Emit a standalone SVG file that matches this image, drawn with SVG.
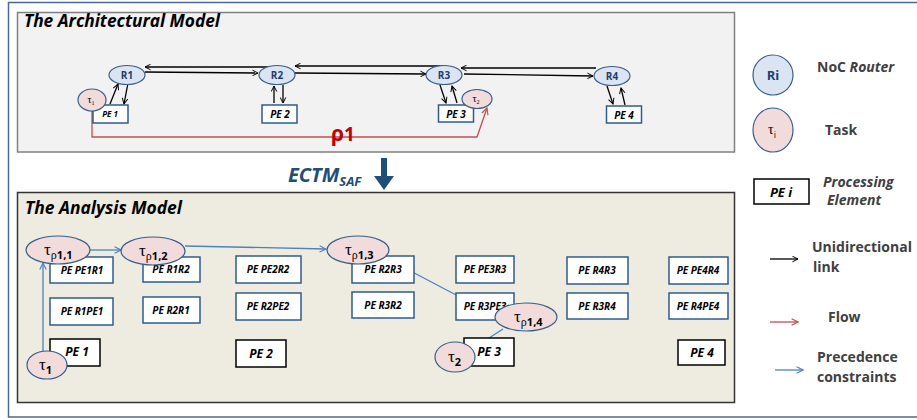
<svg xmlns="http://www.w3.org/2000/svg" width="917" height="420" viewBox="0 0 917 420">
<defs>
<marker id="ab" viewBox="0 0 10 10" refX="9" refY="5" markerWidth="7" markerHeight="7" markerUnits="userSpaceOnUse" orient="auto"><path d="M1,1 L9,5 L1,9" fill="none" stroke="#000" stroke-width="1.4"/></marker>
<marker id="ar" viewBox="0 0 10 10" refX="9" refY="5" markerWidth="8" markerHeight="8" markerUnits="userSpaceOnUse" orient="auto"><path d="M1,1 L9,5 L1,9" fill="none" stroke="#c0504d" stroke-width="1.4"/></marker>
<marker id="au" viewBox="0 0 10 10" refX="9" refY="5" markerWidth="8" markerHeight="8" markerUnits="userSpaceOnUse" orient="auto"><path d="M1,1 L9,5 L1,9" fill="none" stroke="#4f81bd" stroke-width="1.4"/></marker>
</defs>
<style>
text{font-family:"Open Sans","Liberation Sans",sans-serif}
.ttl{font-size:17px;font-weight:bold;font-style:italic;fill:#000}
.rt{fill:#dbe5f1;stroke:#385d8a;stroke-width:1.2}
.tk{fill:#f2dcdb;stroke:#385d8a;stroke-width:1.2}
.pe{fill:#fff;stroke:#2e5c8a;stroke-width:1.5}
.pk{fill:#fff;stroke:#000;stroke-width:1.5}
.bl{font-weight:bold;font-style:italic;fill:#000;text-anchor:middle}
.rl{font-size:10px;font-weight:bold;fill:#1f3d6e;text-anchor:middle}
.lk{fill:none;stroke:#000;stroke-width:1.3;marker-end:url(#ab)}
.fl{fill:none;stroke:#c0504d;stroke-width:1.3}
.pr{fill:none;stroke:#4f81bd;stroke-width:1.3;marker-end:url(#au)}
.tau{font-family:"Liberation Serif",serif;fill:#000}
.lg{font-size:14px;font-weight:bold;fill:#404040}
</style>
<rect x="8.5" y="2.5" width="920" height="414.5" fill="#fff" stroke="#4a6a94" stroke-width="1.5"/>
<g id="arch-panel">
<rect x="17.5" y="12.5" width="717" height="139.5" fill="#f2f2f2" stroke="#808080" stroke-width="1.5"/>
<text class="ttl" x="24" y="27" textLength="196" lengthAdjust="spacingAndGlyphs">The Architectural Model</text>
</g>
<g id="analysis-panel">
<rect x="17.5" y="192.5" width="717" height="210" fill="#eeece1" stroke="#333" stroke-width="1.5"/>
<text class="ttl" x="25" y="214" textLength="157" lengthAdjust="spacingAndGlyphs">The Analysis Model</text>
</g>
<g id="connectors">
<path class="lk" d="M276,67 L145,67"/>
<path class="lk" d="M145,72 L258,73"/>
<path class="lk" d="M445,66 L295,66"/>
<path class="lk" d="M295,73 L426,74"/>
<path class="lk" d="M596,68 L461,68"/>
<path class="lk" d="M464,74 L593,76"/>
<path class="lk" d="M110,104 L118,84"/>
<path class="lk" d="M128,83 L124,104"/>
<path class="lk" d="M274,103 L274,86"/>
<path class="lk" d="M283,85 L283,103"/>
<path class="lk" d="M440,85 L446,103"/>
<path class="lk" d="M457,103 L452,86"/>
<path class="lk" d="M607,86 L613,104"/>
<path class="lk" d="M625,105 L621,88"/>
<path class="fl" d="M92,111 L92,137 L477,137 L487,108" marker-end="url(#ar)"/>
<path class="pr" d="M43,351 L43,263"/>
<path class="pr" d="M90,250 L121,250"/>
<path class="pr" d="M185,246 L326,249"/>
<path class="pr" d="M382,256 L496,316"/>
<path class="pr" d="M503,329 L472,349"/>
</g>
<text x="331" y="141" font-family="Liberation Serif,serif" font-size="21" font-weight="bold" fill="#c00000">ρ<tspan font-family="Open Sans,Liberation Sans,sans-serif" font-size="19">1</tspan></text>
<g id="R1"><ellipse class="rt" cx="127" cy="75" rx="18" ry="9.5"/><text class="rl" x="127" y="79">R1</text></g>
<g id="R2"><ellipse class="rt" cx="277" cy="75" rx="18" ry="9.5"/><text class="rl" x="277" y="79">R2</text></g>
<g id="R3"><ellipse class="rt" cx="444" cy="75" rx="18" ry="9.5"/><text class="rl" x="444" y="79">R3</text></g>
<g id="R4"><ellipse class="rt" cx="612" cy="76" rx="18" ry="9.5"/><text class="rl" x="612" y="80">R4</text></g>
<g id="PE1-arch"><rect class="pe" x="93" y="105" width="35" height="18"/><text class="bl" x="110" y="117" font-size="8">PE 1</text></g>
<g id="PE2-arch"><rect class="pe" x="262" y="105" width="35" height="18"/><text class="bl" x="280" y="118" font-size="10">PE 2</text></g>
<g id="PE3-arch"><rect class="pe" x="438.5" y="105" width="35" height="17"/><text class="bl" x="456" y="118" font-size="10">PE 3</text></g>
<g id="PE4-arch"><rect class="pe" x="606.5" y="106" width="35" height="17"/><text class="bl" x="624" y="119" font-size="10">PE 4</text></g>
<g id="tau1-arch"><ellipse class="tk" cx="92" cy="100" rx="14" ry="11"/><text class="tau" x="91" y="103" font-size="10" text-anchor="middle">τ<tspan font-size="6" dy="2">1</tspan></text></g>
<g id="tau2-arch"><ellipse class="tk" cx="477" cy="99" rx="15" ry="9.5"/><text class="tau" x="476" y="102" font-size="10" text-anchor="middle">τ<tspan font-size="6" dy="2">2</tspan></text></g>
<g id="ectm">
<text x="288" y="182" font-size="20" font-weight="bold" font-style="italic" fill="#1f4e79">ECTM<tspan font-size="13" dy="4">SAF</tspan></text>
<path d="M381,158 L387,158 L387,176 L394,176 L384,190 L374,176 L381,176 Z" fill="#1f4e79"/>
</g>
<g id="PE-PE1R1"><rect class="pe" x="50" y="257" width="63" height="26"/><text class="bl" x="82" y="274" font-size="10">PE PE1R1</text></g>
<g id="PE-R1PE1"><rect class="pe" x="50" y="298" width="63" height="27"/><text class="bl" x="82" y="315" font-size="10">PE R1PE1</text></g>
<g id="PE1"><rect class="pk" x="50" y="339" width="50" height="27"/><text class="bl" x="77" y="356" font-size="12">PE 1</text></g>
<g id="PE-R1R2"><rect class="pe" x="143" y="257" width="57" height="25"/><text class="bl" x="171" y="273" font-size="10">PE R1R2</text></g>
<g id="PE-R2R1"><rect class="pe" x="143" y="297" width="57" height="26"/><text class="bl" x="171" y="314" font-size="10">PE R2R1</text></g>
<g id="PE-PE2R2"><rect class="pe" x="236" y="256" width="65" height="27"/><text class="bl" x="268" y="273" font-size="10">PE PE2R2</text></g>
<g id="PE-R2PE2"><rect class="pe" x="236" y="293" width="65" height="27"/><text class="bl" x="268" y="310" font-size="10">PE R2PE2</text></g>
<g id="PE2"><rect class="pk" x="236" y="340" width="50" height="27"/><text class="bl" x="261" y="358" font-size="12">PE 2</text></g>
<g id="PE-R2R3"><rect class="pe" x="352" y="256" width="62" height="27"/><text class="bl" x="383" y="273" font-size="10">PE R2R3</text></g>
<g id="PE-R3R2"><rect class="pe" x="352" y="292" width="62" height="26"/><text class="bl" x="383" y="309" font-size="10">PE R3R2</text></g>
<g id="PE-PE3R3"><rect class="pe" x="456" y="256" width="58" height="27"/><text class="bl" x="485" y="273" font-size="10">PE PE3R3</text></g>
<g id="PE-R3PE3"><rect class="pe" x="456" y="293" width="58" height="27"/><text class="bl" x="485" y="310" font-size="10">PE R3PE3</text></g>
<g id="PE3"><rect class="pk" x="464" y="338" width="50" height="28"/><text class="bl" x="489" y="356" font-size="12">PE 3</text></g>
<g id="PE-R4R3"><rect class="pe" x="567" y="257" width="61" height="27"/><text class="bl" x="597" y="274" font-size="10">PE R4R3</text></g>
<g id="PE-R3R4"><rect class="pe" x="567" y="293" width="61" height="26"/><text class="bl" x="597" y="310" font-size="10">PE R3R4</text></g>
<g id="PE-PE4R4"><rect class="pe" x="669" y="257" width="59" height="27"/><text class="bl" x="698" y="274" font-size="10">PE PE4R4</text></g>
<g id="PE-R4PE4"><rect class="pe" x="669" y="293" width="59" height="26"/><text class="bl" x="698" y="310" font-size="10">PE R4PE4</text></g>
<g id="PE4"><rect class="pk" x="678" y="340" width="47" height="25"/><text class="bl" x="702" y="357" font-size="12">PE 4</text></g>
<g id="tau-r11"><ellipse class="tk" cx="58" cy="250" rx="32" ry="14"/><text class="tau" x="44" y="255" font-size="17">τ<tspan font-family="Open Sans,Liberation Sans,sans-serif" font-size="11" font-weight="bold" dy="4"><tspan font-family="Liberation Serif,serif" font-weight="normal" font-size="12">ρ</tspan>1,1</tspan></text></g>
<g id="tau-r12"><ellipse class="tk" cx="153" cy="251" rx="32" ry="14"/><text class="tau" x="139" y="256" font-size="17">τ<tspan font-family="Open Sans,Liberation Sans,sans-serif" font-size="11" font-weight="bold" dy="4"><tspan font-family="Liberation Serif,serif" font-weight="normal" font-size="12">ρ</tspan>1,2</tspan></text></g>
<g id="tau-r13"><ellipse class="tk" cx="358" cy="250" rx="31" ry="14"/><text class="tau" x="345" y="255" font-size="17">τ<tspan font-family="Open Sans,Liberation Sans,sans-serif" font-size="11" font-weight="bold" dy="4"><tspan font-family="Liberation Serif,serif" font-weight="normal" font-size="12">ρ</tspan>1,3</tspan></text></g>
<g id="tau-r14"><ellipse class="tk" cx="526" cy="317" rx="31" ry="14"/><text class="tau" x="514" y="322" font-size="17">τ<tspan font-family="Open Sans,Liberation Sans,sans-serif" font-size="11" font-weight="bold" dy="4"><tspan font-family="Liberation Serif,serif" font-weight="normal" font-size="12">ρ</tspan>1,4</tspan></text></g>
<g id="tau1"><ellipse class="tk" cx="47" cy="365" rx="20" ry="14"/><text class="tau" x="39" y="370" font-size="17">τ<tspan font-family="Open Sans,Liberation Sans,sans-serif" font-size="11" font-weight="bold" dy="4">1</tspan></text></g>
<g id="tau2"><ellipse class="tk" cx="455" cy="357" rx="20" ry="15"/><text class="tau" x="448" y="362" font-size="17">τ<tspan font-family="Open Sans,Liberation Sans,sans-serif" font-size="11" font-weight="bold" dy="4">2</tspan></text></g>
<g id="legend">
<circle class="rt" cx="773" cy="75" r="20"/><text x="773" y="80" font-size="13" font-weight="bold" fill="#1f3d6e" text-anchor="middle">Ri</text>
<text class="lg" x="817" y="72">NoC <tspan font-style="italic">Router</tspan></text>
<ellipse class="tk" cx="773" cy="130" rx="20" ry="22"/><text class="tau" x="768" y="134" font-size="14">τ<tspan font-family="Open Sans,Liberation Sans,sans-serif" font-size="9" dy="4">i</tspan></text>
<text class="lg" x="825" y="135">Task</text>
<rect class="pk" x="754" y="179" width="55" height="25"/><text class="bl" x="781" y="197" font-size="13">PE i</text>
<text class="lg" x="823" y="187" font-style="italic">Processing</text>
<text class="lg" x="827" y="205" font-style="italic">Element</text>
<path class="lk" d="M770,259 L798,259"/>
<text class="lg" x="812" y="252">Unidirectional</text>
<text class="lg" x="813" y="272">link</text>
<path class="fl" d="M770,322 L798,322" marker-end="url(#ar)"/>
<text class="lg" x="828" y="322">Flow</text>
<path class="pr" d="M775,370 L803,370"/>
<text class="lg" x="817" y="362">Precedence</text>
<text class="lg" x="817" y="382">constraints</text>
</g>
</svg>
